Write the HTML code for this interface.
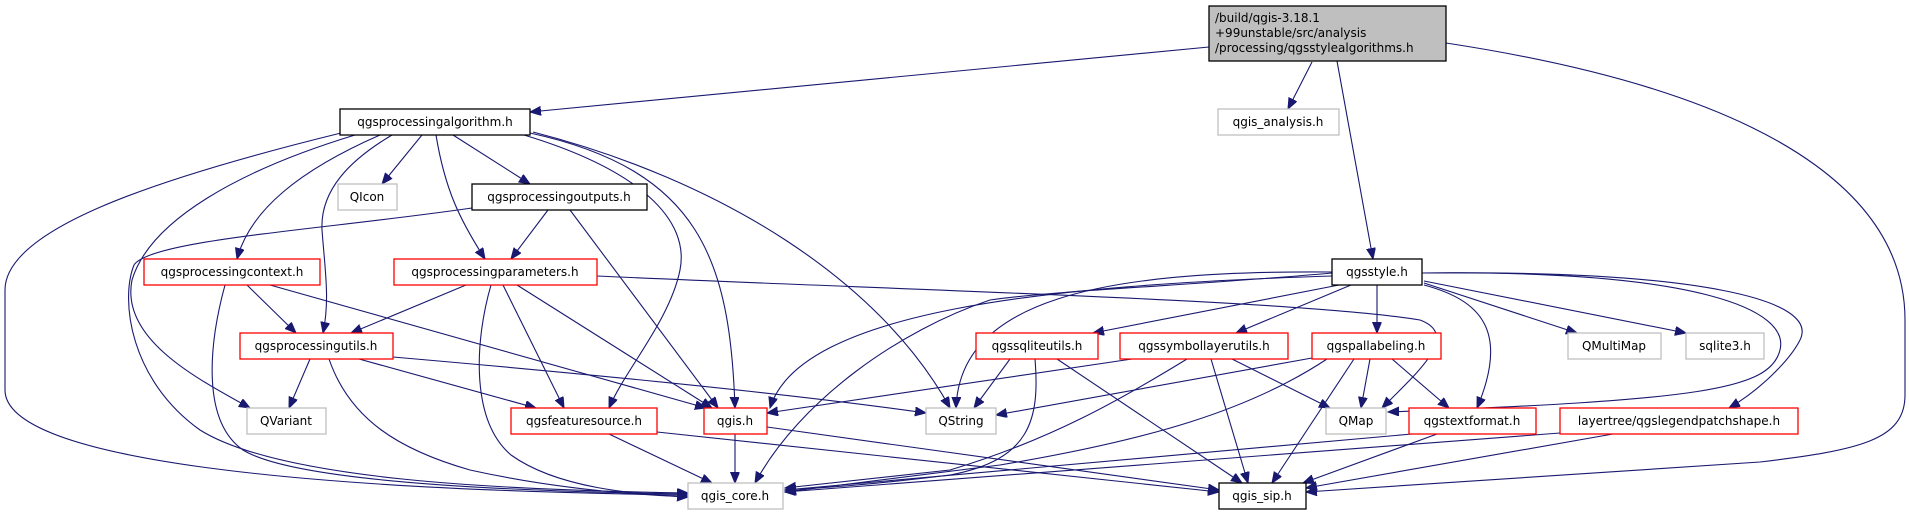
<!DOCTYPE html>
<html><head><meta charset="utf-8"><style>
html,body{margin:0;padding:0;background:#fff;}
svg{display:block;}
text{font-family:"DejaVu Sans","Liberation Sans",sans-serif;font-size:12px;fill:#000;}
</style></head><body>
<svg width="1909" height="515" viewBox="0 0 1909 515" xmlns="http://www.w3.org/2000/svg">
<defs>
<marker id="a" markerUnits="userSpaceOnUse" markerWidth="12" markerHeight="10" refX="11" refY="4.5" orient="auto">
<path d="M0,0 L11,4.5 L0,9 Z" fill="#191970" stroke="#191970"/>
</marker>
</defs>
<g fill="none" stroke="#191970" stroke-width="1.1" marker-end="url(#a)">
<!-- top node -->
<path d="M1209,47 L530,112"/>
<path d="M1312,62 L1288,109"/>
<path d="M1337,61 L1373,259"/>
<path d="M1446,43 C1820,100 1905,220 1905,320 L1905,395 C1905,440 1860,450 1760,462 L1306,492"/>
<!-- algorithm -->
<path d="M422,135 L382,184"/>
<path d="M453,135 L530,184"/>
<path d="M436,135 C445,190 460,220 485,259"/>
<path d="M380,135 C300,170 250,210 237,259"/>
<path d="M392,135 C350,160 320,190 322,230 C325,270 330,300 323,333"/>
<path d="M341,133 C150,180 5,230 5,290 L5,390 C5,460 300,490 688,495"/>
<path d="M355,135 C240,170 150,220 132,280 C120,340 200,380 250,408"/>
<path d="M524,135 C640,170 690,220 680,270 C670,320 625,370 609,408"/>
<path d="M530,133 C700,170 730,260 735,408"/>
<path d="M533,132 C720,180 880,280 950,408"/>
<!-- outputs -->
<path d="M548,210 L511,259"/>
<path d="M570,210 L718,408"/>
<path d="M472,208 C320,230 150,240 134,265 C120,300 130,380 200,430 C280,480 500,490 688,493"/>
<!-- context -->
<path d="M247,285 L296,333"/>
<path d="M270,285 L706,408"/>
<path d="M225,285 C210,340 200,420 243,450 C300,485 550,492 688,494"/>
<!-- parameters -->
<path d="M466,285 L351,333"/>
<path d="M503,285 L564,408"/>
<path d="M517,285 L712,408"/>
<path d="M491,285 C475,340 470,420 511,455 C560,490 640,494 688,497"/>
<path d="M597,276 C900,290 1300,300 1420,320 C1460,335 1420,370 1382,408"/>
<!-- utils -->
<path d="M310,359 L289,408"/>
<path d="M359,359 L536,408"/>
<path d="M329,359 C350,420 400,450 470,470 C560,490 640,495 688,497"/>
<path d="M393,357 C600,375 800,395 926,413"/>
<!-- featuresource, qgis.h -->
<path d="M609,434 L712,483"/>
<path d="M657,432 L1219,492"/>
<path d="M735,434 L735,483"/>
<path d="M767,427 L1219,490"/>
<!-- qgsstyle -->
<path d="M1332,276 C1050,285 800,310 770,408"/>
<path d="M1332,273 C1200,285 1060,290 990,300 C900,330 800,400 755,483"/>
<path d="M1332,272 C1100,270 960,300 956,408"/>
<path d="M1339,285 L1093,333"/>
<path d="M1351,285 L1236,333"/>
<path d="M1377,285 L1377,333"/>
<path d="M1424,283 L1577,333"/>
<path d="M1424,281 L1686,333"/>
<path d="M1424,285 C1480,300 1510,330 1477,408"/>
<path d="M1422,273 C1700,270 1790,310 1780,350 C1770,390 1700,400 1388,412"/>
<path d="M1422,273 C1700,270 1820,300 1800,340 C1790,360 1760,390 1729,408"/>
<!-- sqliteutils -->
<path d="M1010,359 L974,408"/>
<path d="M1035,359 C1040,420 1030,460 950,475 C870,485 820,488 785,490"/>
<path d="M1057,359 L1242,483"/>
<!-- symbollayerutils -->
<path d="M1132,359 L767,413"/>
<path d="M1187,359 C1120,400 1050,440 950,470 L785,488"/>
<path d="M1211,359 L1248,483"/>
<path d="M1232,359 L1330,408"/>
<!-- pallabeling -->
<path d="M1312,358 L996,415"/>
<path d="M1327,359 C1250,410 1150,440 1000,465 L785,492"/>
<path d="M1354,359 L1272,483"/>
<path d="M1370,359 L1361,408"/>
<path d="M1392,359 L1449,408"/>
<!-- textformat / legend -->
<path d="M1412,434 L785,490"/>
<path d="M1437,434 L1303,483"/>
<path d="M1560,433 L785,492"/>
<path d="M1613,434 L1306,488"/>
</g>
<!-- nodes -->
<g stroke-width="1.3">
<rect x="1209" y="6" width="237" height="55" fill="#bfbfbf" stroke="#000"/>
<rect x="340" y="109" width="190" height="26" fill="#fff" stroke="#000"/>
<rect x="1218" y="109" width="121" height="26" fill="#fff" stroke="#bfbfbf"/>
<rect x="338" y="184" width="59" height="26" fill="#fff" stroke="#bfbfbf"/>
<rect x="472" y="184" width="175" height="26" fill="#fff" stroke="#000"/>
<rect x="144" y="259" width="176" height="26" fill="#fff" stroke="#ff0000"/>
<rect x="394" y="259" width="203" height="26" fill="#fff" stroke="#ff0000"/>
<rect x="1332" y="259" width="90" height="26" fill="#fff" stroke="#000"/>
<rect x="240" y="333" width="153" height="26" fill="#fff" stroke="#ff0000"/>
<rect x="976" y="333" width="122" height="26" fill="#fff" stroke="#ff0000"/>
<rect x="1120" y="333" width="168" height="26" fill="#fff" stroke="#ff0000"/>
<rect x="1312" y="333" width="129" height="26" fill="#fff" stroke="#ff0000"/>
<rect x="1568" y="333" width="93" height="26" fill="#fff" stroke="#bfbfbf"/>
<rect x="1686" y="333" width="78" height="26" fill="#fff" stroke="#bfbfbf"/>
<rect x="247" y="408" width="79" height="26" fill="#fff" stroke="#bfbfbf"/>
<rect x="511" y="408" width="146" height="26" fill="#fff" stroke="#ff0000"/>
<rect x="704" y="408" width="63" height="26" fill="#fff" stroke="#ff0000"/>
<rect x="926" y="408" width="70" height="26" fill="#fff" stroke="#bfbfbf"/>
<rect x="1326" y="408" width="60" height="26" fill="#fff" stroke="#bfbfbf"/>
<rect x="1409" y="408" width="127" height="26" fill="#fff" stroke="#ff0000"/>
<rect x="1560" y="408" width="238" height="26" fill="#fff" stroke="#ff0000"/>
<rect x="688" y="483" width="95" height="26" fill="#fff" stroke="#bfbfbf"/>
<rect x="1219" y="483" width="87" height="26" fill="#fff" stroke="#000"/>
</g>
<text x="1215" y="22">/build/qgis-3.18.1</text>
<text x="1215" y="37">+99unstable/src/analysis</text>
<text x="1215" y="52">/processing/qgsstylealgorithms.h</text>
<g text-anchor="middle">
<text x="435" y="126">qgsprocessingalgorithm.h</text>
<text x="1278" y="126">qgis_analysis.h</text>
<text x="367" y="201">QIcon</text>
<text x="559" y="201">qgsprocessingoutputs.h</text>
<text x="232" y="276">qgsprocessingcontext.h</text>
<text x="495" y="276">qgsprocessingparameters.h</text>
<text x="1377" y="276">qgsstyle.h</text>
<text x="316" y="350">qgsprocessingutils.h</text>
<text x="1037" y="350">qgssqliteutils.h</text>
<text x="1204" y="350">qgssymbollayerutils.h</text>
<text x="1376" y="350">qgspallabeling.h</text>
<text x="1614" y="350">QMultiMap</text>
<text x="1725" y="350">sqlite3.h</text>
<text x="286" y="425">QVariant</text>
<text x="584" y="425">qgsfeaturesource.h</text>
<text x="735" y="425">qgis.h</text>
<text x="961" y="425">QString</text>
<text x="1356" y="425">QMap</text>
<text x="1472" y="425">qgstextformat.h</text>
<text x="1679" y="425">layertree/qgslegendpatchshape.h</text>
<text x="735" y="500">qgis_core.h</text>
<text x="1262" y="500">qgis_sip.h</text>
</g>
</svg>
</body></html>
